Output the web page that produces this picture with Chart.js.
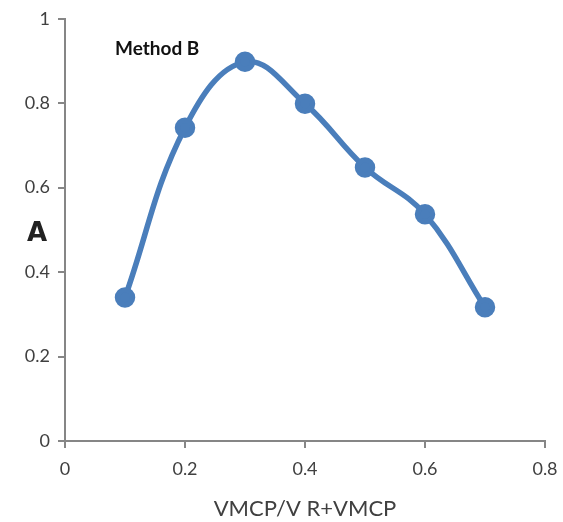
<!DOCTYPE html>
<html><head><meta charset="utf-8">
<script src="https://cdn.jsdelivr.net/npm/chart.js@4"></script>
<style>html,body{margin:0;padding:0;background:#fff}canvas{display:block}</style>
</head><body>
<canvas id="c" width="563" height="522"></canvas>
<script>
const xValues = [0.1, 0.2, 0.3, 0.4, 0.5, 0.6, 0.7];
const aValues = [0.340, 0.742, 0.898, 0.799, 0.648, 0.537, 0.317];
const xTicks = [0, 0.2, 0.4, 0.6, 0.8];
const yTicks = [0, 0.2, 0.4, 0.6, 0.8, 1];
const seriesName = 'Method B';
const xTitle = 'VMCP/V R+VMCP';
const yTitle = 'A';

const FONT = 'Lato, "Open Sans", sans-serif';
const AXIS = '#868686';
const TXT = '#404040';

const labelsPlugin = {
  id: 'labels',
  afterDraw(chart) {
    const ctx = chart.ctx;
    const ys = chart.scales.y;
    ctx.save();
    ctx.fillStyle = '#111';
    ctx.font = 'bold 19px ' + FONT;
    ctx.textAlign = 'left';
    ctx.textBaseline = 'middle';
    ctx.fillText(seriesName, 115, ys.getPixelForValue(0.928));
    ctx.fillStyle = '#222';
    ctx.font = 'bold 26px "DejaVu Sans", sans-serif';
    ctx.textAlign = 'center';
    ctx.fillText(yTitle, 37, ys.getPixelForValue(0.49));
    ctx.restore();
  }
};

new Chart(document.getElementById('c'), {
  type: 'line',
  data: {
    datasets: [{
      label: seriesName,
      data: xValues.map((x, i) => ({x: x, y: aValues[i]})),
      borderColor: '#4A7EBB',
      backgroundColor: '#4A7EBB',
      borderWidth: 5.5,
      pointRadius: 7.5,
      pointHoverRadius: 7.5,
      tension: 0.4,
      fill: false
    }]
  },
  options: {
    responsive: false,
    animation: false,
    layout: {padding: {top: 8, right: 0, left: 0, bottom: 0}},
    plugins: {legend: {display: false}, tooltip: {enabled: false}},
    scales: {
      x: {
        type: 'linear', min: 0, max: 0.8,
        afterBuildTicks: s => { s.ticks = xTicks.map(v => ({value: v})); },
        afterFit: s => { s.paddingRight = 18; },
        ticks: {font: {size: 18, family: FONT}, color: TXT, padding: 10,
          callback: v => String(Number(v.toFixed(1)))},
        grid: {display: true, drawOnChartArea: false, drawTicks: true, tickLength: 7, color: AXIS, lineWidth: 2},
        border: {color: AXIS, width: 2},
        title: {display: true, text: xTitle, font: {size: 22, family: FONT}, color: TXT, padding: {top: 6, bottom: 0}}
      },
      y: {
        type: 'linear', min: 0, max: 1,
        afterBuildTicks: s => { s.ticks = yTicks.map(v => ({value: v})); },
        afterFit: s => { s.width = 65; },
        ticks: {font: {size: 18, family: FONT}, color: TXT, padding: 8,
          callback: v => String(Number(v.toFixed(1)))},
        grid: {display: true, drawOnChartArea: false, drawTicks: true, tickLength: 7, color: AXIS, lineWidth: 2},
        border: {color: AXIS, width: 2}
      }
    }
  },
  plugins: [labelsPlugin]
});
</script>
</body></html>
